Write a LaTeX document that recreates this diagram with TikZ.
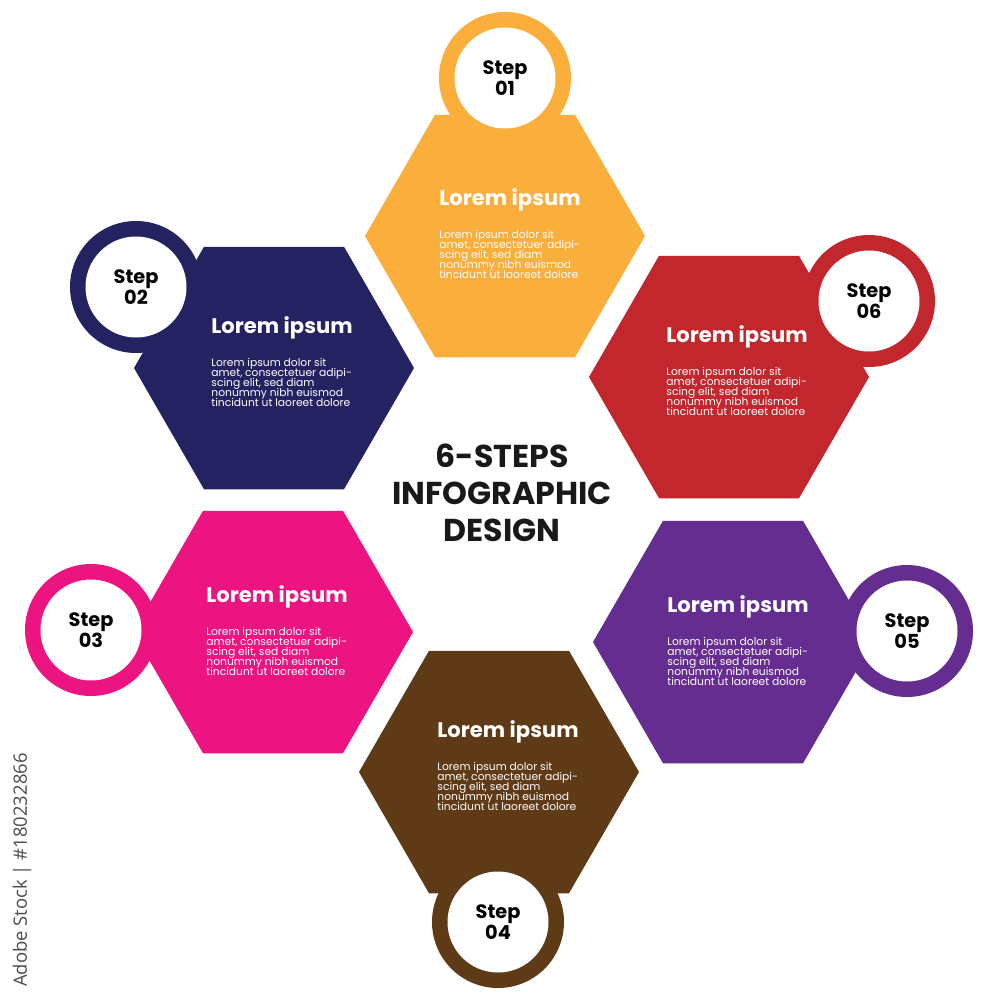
\documentclass[tikz,border=0pt]{standalone}
\usepackage{fontspec}
\setmainfont{Poppins}
\newfontfamily\creditfont{Open Sans}
\usetikzlibrary{shapes.geometric,positioning}

\definecolor{hexOrange}{HTML}{FAAE3C}
\definecolor{hexNavy}{HTML}{252261}
\definecolor{hexRed}{HTML}{C1272D}
\definecolor{hexPink}{HTML}{EC1480}
\definecolor{hexPurple}{HTML}{662D91}
\definecolor{hexBrown}{HTML}{5F3A17}

\newcommand{\loremlines}{Lorem ipsum dolor sit\\amet, consectetuer adipi-\\scing elit, sed diam\\nonummy nibh euismod\\tincidunt ut laoreet dolore}
\newcommand{\tightlines}{\fontsize{6.1}{5.8}\selectfont\lineskiplimit=-10pt\relax}

\begin{document}
\begin{tikzpicture}[
  x=0.2mm,y=-0.2mm,
  hexa/.style={regular polygon,regular polygon sides=6,minimum size=56mm,
    inner sep=0pt,draw=none},
  ring/.style={circle,minimum size=26.4mm,inner sep=0pt,draw=none},
  hole/.style={circle,fill=white,minimum size=20.2mm,inner sep=0pt,
    align=center,font=\fontsize{11}{10}\selectfont\bfseries},
  ttl/.style={text=white,inner sep=0pt,font=\fontsize{12}{14}\selectfont\bfseries},
  bdy/.style={text=white,inner sep=0pt,align=left,font=\tightlines},
  heading/.style={align=center,text=black!90,
    font=\fontsize{18}{21}\selectfont\bfseries}
]
\fill[white] (0,0) rectangle (1000,1000);
\useasboundingbox (0,0) rectangle (1000,1000);

% step 01
\node[hexa,fill=hexOrange] (hex1) at (505,236) {};
\node[ring,fill=hexOrange] (ring1) at (505,78) {};
\node[hole] (lab1) at (ring1) {Step\\01};
\node[ttl] (ttl1) at (510,200) {Lorem ipsum};
\node[bdy,below=3.6mm of ttl1.south west,anchor=north west] (bdy1) {\loremlines};

% step 02
\node[hexa,fill=hexNavy] (hex2) at (274,368) {};
\node[ring,fill=hexNavy] (ring2) at (136,287) {};
\node[hole] (lab2) at (ring2) {Step\\02};
\node[ttl] (ttl2) at (282,328) {Lorem ipsum};
\node[bdy,below=3.6mm of ttl2.south west,anchor=north west] (bdy2) {\loremlines};

% step 06
\node[hexa,fill=hexRed] (hex6) at (729,377) {};
\node[ring,fill=hexRed] (ring6) at (869,301) {};
\node[hole] (lab6) at (ring6) {Step\\06};
\node[ttl] (ttl6) at (737,337) {Lorem ipsum};
\node[bdy,below=3.6mm of ttl6.south west,anchor=north west] (bdy6) {\loremlines};

% step 03
\node[hexa,fill=hexPink] (hex3) at (273,632) {};
\node[ring,fill=hexPink] (ring3) at (91,630) {};
\node[hole] (lab3) at (ring3) {Step\\03};
\node[ttl] (ttl3) at (277,597) {Lorem ipsum};
\node[bdy,below=3.6mm of ttl3.south west,anchor=north west] (bdy3) {\loremlines};

% step 05
\node[hexa,fill=hexPurple] (hex5) at (733,642) {};
\node[ring,fill=hexPurple] (ring5) at (907,631) {};
\node[hole] (lab5) at (ring5) {Step\\05};
\node[ttl] (ttl5) at (738,607) {Lorem ipsum};
\node[bdy,below=3.6mm of ttl5.south west,anchor=north west] (bdy5) {\loremlines};

% step 04
\node[hexa,fill=hexBrown] (hex4) at (499,772) {};
\node[ring,fill=hexBrown] (ring4) at (498,922) {};
\node[hole] (lab4) at (ring4) {Step\\04};
\node[ttl] (ttl4) at (508,732) {Lorem ipsum};
\node[bdy,below=3.6mm of ttl4.south west,anchor=north west] (bdy4) {\loremlines};

% centre title
\node[heading] (title) at (502,493) {6-STEPS\\INFOGRAPHIC\\DESIGN};

% credit
\node[rotate=90,text=black!70,font=\creditfont\fontsize{10.5}{12}\selectfont]
  (credit) at (22,870) {Adobe Stock | \#180232866};
\end{tikzpicture}
\end{document}
